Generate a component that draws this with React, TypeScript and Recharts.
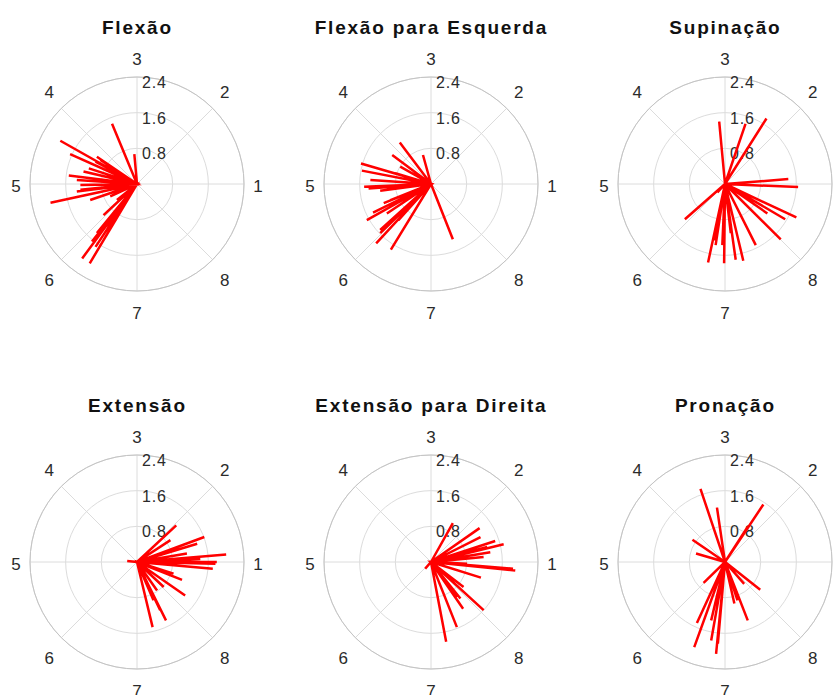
import {
  PolarAngleAxis,
  PolarGrid,
  RadarChart,
  ReferenceDot,
  Scatter,
  ScatterChart,
  XAxis,
  YAxis,
} from "recharts";

const DIRECTIONS = ["1", "2", "3", "4", "5", "6", "7", "8"];
const RINGS = [0.8, 1.6, 2.4];
const R_MAX = 2.4;

// vector components (u = east, v = north)
const flexaoU = [-0.56, -0.06, -1.72, -1.5, -0.9, -1.08, -1.53, -1.35, -1.27, -1.35, -1.94, -1.05, -0.75, -1.01, -1.23, -1.06, -0.93, -0.82, -1.2, -0.6, -0.45, -0.9, -0.67, -1.16, -1.27, -0.93, -0.45];
const flexaoV = [1.35, 0.67, 0.97, 0.67, 0.61, 0.35, 0.19, 0.09, -0.13, -0.17, -0.42, -0.36, -0.7, -1.29, -1.67, -1.78, -1.41, 0.54, 0.28, -0.28, -0.36, -1.1, -0.96, -0.25, -0.02, 0.5, -0.13];

const flexaoEsqU = [-0.7, -0.18, -0.87, -1.57, -1.55, -0.8, -1.5, -1.4, -1.14, -1.06, -1.3, -1.44, -1.14, -1.23, -0.9, 0.49, -0.76, -0.99, -1.36, -0.91, -0.69, -1.14, -0.73];
const flexaoEsqV = [0.93, 0.65, 0.65, 0.46, 0.3, 0.24, -0.06, -0.1, -0.15, -0.43, -0.64, -0.81, -1.03, -1.33, -1.47, -1.24, -0.73, -0.66, 0.09, -0.36, 0.39, -1.1, -0.81];

const supinacaoU = [-0.13, 0.46, 0.93, 1.42, 1.64, 1.6, 1.35, 1.25, 0.69, 0.41, 0.24, -0.02, -0.38, -0.21, -0.06, -0.9, -0.17, 0.95, -0.25, 0.13];
const supinacaoV = [1.4, 1.35, 1.47, 0.11, -0.07, -0.75, -0.79, -1.24, -1.37, -1.72, -1.7, -1.78, -1.76, -1.37, -1.37, -0.79, -0.19, -0.66, -1.26, -1.1];

const extensaoU = [0.88, 0.75, 1.51, 1.35, 2.0, 1.79, 1.76, 1.7, 1.01, 1.08, 0.65, 0.35, 0.45, 0.6, -0.22, 1.12, 1.42, 0.82, 0.37, 0.52, 1.12];
const extensaoV = [0.82, 0.49, 0.56, 0.41, 0.17, 0.0, -0.04, -0.15, -0.4, -0.75, -1.31, -1.46, -0.64, -0.56, 0.02, 0.19, 0.07, -0.26, -0.86, -1.08, 0.34];

const extensaoDirU = [0.49, 1.09, 1.11, 1.44, 1.63, 1.33, 1.18, 1.89, 1.84, 1.12, 1.18, 0.72, 0.66, 0.58, 0.34, -0.13, 0.81, 0.73, 1.26, 0.58];
const extensaoDirV = [0.87, 0.76, 0.56, 0.47, 0.4, 0.22, 0.11, -0.19, -0.15, -0.35, -1.08, -1.05, -0.82, -1.46, -1.79, -0.15, -0.04, -0.56, 0.34, -0.79];

const pronacaoU = [-0.55, -0.18, 0.86, 0.51, -0.73, -0.65, 0.79, 0.43, -0.48, 0.21, 0.51, -0.63, -0.69, -0.31, -0.2, -0.16, -0.31, 0.28, -0.39, 0.36];
const pronacaoV = [1.64, 1.22, 1.29, 0.79, 0.5, 0.19, -0.62, -0.49, -0.47, -0.93, -1.31, -1.37, -1.91, -1.76, -2.06, -1.83, -1.31, -0.86, -1.08, -0.41];

const PANELS = [
  { title: "Flexão", u: flexaoU, v: flexaoV },
  { title: "Flexão para Esquerda", u: flexaoEsqU, v: flexaoEsqV },
  { title: "Supinação", u: supinacaoU, v: supinacaoV },
  { title: "Extensão", u: extensaoU, v: extensaoV },
  { title: "Extensão para Direita", u: extensaoDirU, v: extensaoDirV },
  { title: "Pronação", u: pronacaoU, v: pronacaoV },
];

const W = 294;
const H = 340;
const CX = 147;
const CY = 184;
const OUTER = 107;
const COL_X = [136.5, 430.5, 724.5];
const ROW_Y = [184, 562];
const FONT = '"Liberation Sans", Arial, Helvetica, sans-serif';
const TEXT = "#2b2b2b";

const dirData = DIRECTIONS.map((d) => ({ dir: d }));

function AngleTick(props: any) {
  const { x, y, payload } = props;
  const dx = x - CX;
  const dy = y - CY;
  const t = Math.atan2(-dy, dx);
  const diag = Math.abs(Math.sin(2 * t));
  const rx = 121 + 3 * diag;
  const ry = 127 + 6 * diag;
  return (
    <text
      x={CX + rx * Math.cos(t)}
      y={CY - ry * Math.sin(t) + 2.5}
      textAnchor="middle"
      dominantBaseline="central"
      fontFamily={FONT}
      fontSize={17}
      fill={TEXT}
    >
      {payload.value}
    </text>
  );
}

function ringLabel(value: number) {
  return (p: any) => {
    const vb = p.viewBox || {};
    const x = (vb.x ?? 0) + (vb.width ?? 0) / 2;
    const y = (vb.y ?? 0) + (vb.height ?? 0) / 2;
    return (
      <text
        x={x + 5}
        y={y + 5.5}
        textAnchor="start"
        dominantBaseline="central"
        fontFamily={FONT}
        fontSize={16}
        letterSpacing={0.8}
        fill={TEXT}
      >
        {value.toFixed(1)}
      </text>
    );
  };
}

function CompassPanel({ title, u, v }: { title: string; u: number[]; v: number[] }) {
  // every vector starts at the origin: walk out and back for each one
  const pts = u.flatMap((x, i) => [
    { x: 0, y: 0 },
    { x, y: v[i] },
  ]);
  pts.push({ x: 0, y: 0 });

  return (
    <div style={{ position: "relative", width: W, height: H }}>
      <div
        style={{
          position: "absolute",
          left: 0,
          top: 19,
          width: W,
          textAlign: "center",
          fontFamily: FONT,
          fontWeight: "bold",
          fontSize: 19,
          lineHeight: "18px",
          letterSpacing: 1.8,
          paddingLeft: 1.8,
          boxSizing: "border-box",
          color: "#111",
        }}
      >
        {title}
      </div>
      <div style={{ position: "absolute", left: 0, top: 0 }}>
        <RadarChart
          width={W}
          height={H}
          cx={CX}
          cy={CY}
          outerRadius={OUTER}
          data={dirData}
          startAngle={45}
          endAngle={405}
        >
          <PolarGrid
            gridType="circle"
            stroke="#dcdcdc"
            polarRadius={RINGS.map((r) => (r / R_MAX) * OUTER)}
          />
          <PolarAngleAxis
            dataKey="dir"
            axisLineType="circle"
            axisLine={{ stroke: "#c4c4c4" }}
            tickLine={false}
            tick={AngleTick}
          />
        </RadarChart>
      </div>
      <div style={{ position: "absolute", left: 0, top: 0 }}>
        <ScatterChart
          width={W}
          height={H}
          margin={{
            top: CY - OUTER,
            right: W - CX - OUTER,
            bottom: H - CY - OUTER,
            left: CX - OUTER,
          }}
        >
          <XAxis type="number" dataKey="x" domain={[-R_MAX, R_MAX]} hide allowDataOverflow />
          <YAxis type="number" dataKey="y" domain={[-R_MAX, R_MAX]} hide allowDataOverflow />
          {RINGS.map((r) => (
            <ReferenceDot
              key={r}
              x={0}
              y={r}
              r={0}
              fill="none"
              stroke="none"
              ifOverflow="visible"
              label={ringLabel(r)}
            />
          ))}
          <Scatter
            data={pts}
            fill="#ff0000"
            line={{ stroke: "#ff0000", strokeWidth: 2.5 }}
            shape={() => <g />}
            isAnimationActive={false}
          />
        </ScatterChart>
      </div>
    </div>
  );
}

export default function App() {
  return (
    <div
      style={{
        position: "absolute",
        left: 0,
        top: 0,
        width: 840,
        height: 695,
        overflow: "hidden",
        background: "#fff",
      }}
    >
      {PANELS.map((p, i) => (
        <div
          key={p.title}
          style={{
            position: "absolute",
            left: COL_X[i % 3] - CX,
            top: ROW_Y[Math.floor(i / 3)] - CY,
          }}
        >
          <CompassPanel title={p.title} u={p.u} v={p.v} />
        </div>
      ))}
    </div>
  );
}
